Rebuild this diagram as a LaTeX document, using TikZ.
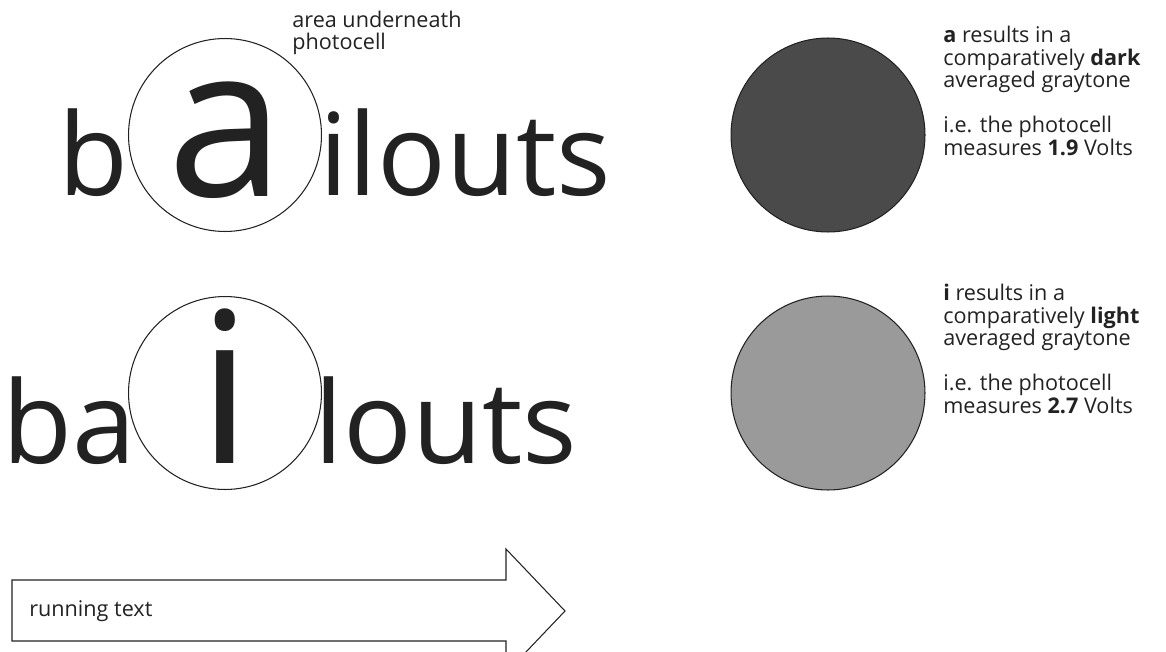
\documentclass[tikz,border=0pt]{standalone}
\usepackage{fontspec}
\setmainfont{Open Sans}
\usetikzlibrary{positioning}
\definecolor{inkgray}{HTML}{222222}
\definecolor{darktone}{HTML}{4A4A4A}
\definecolor{lighttone}{HTML}{9A9A9A}
\tikzset{
  wordpart/.style={
    inner sep=0pt, anchor=base west, text=inkgray,
    font=\fontsize{65}{65}\selectfont
  },
  bigletter/.style={
    inner sep=0pt, anchor=base, text=inkgray,
    font=\fontsize{120}{120}\selectfont
  },
  cellring/.style={
    circle, draw=inkgray, line width=0.6pt, inner sep=0pt,
    minimum size=3.86cm
  },
  tonedisc/.style={
    circle, draw=inkgray, line width=0.6pt, inner sep=0pt,
    minimum size=3.88cm, fill=#1
  },
  notetext/.style={
    inner sep=0pt, anchor=base west, align=left, text=inkgray,
    font=\fontsize{12.3}{12.8}\selectfont
  },
}

\begin{document}
\begin{tikzpicture}[x=0.02cm, y=-0.02cm]
    \useasboundingbox (0,0) rectangle (1166,652);
    \clip (0,0) rectangle (1166,652);

    \node[cellring] (ringa) at (225,135){};
    \node[wordpart] (topb)  at (58,195){b};
    \node[bigletter] (topa) at (226,196){a};
    \node[wordpart] (toprest) at (319,195){ilouts};
    \node[notetext] (area) at (292,50){area underneath\\photocell};

    \node[cellring] (ringi) at (225,393){};
    \node[wordpart] (botba) at (2,463){ba};
    \node[bigletter] (boti) at (225,463){i};
    \node[wordpart] (botrest) at (314,463){louts};

    \node[tonedisc=darktone]  (disca) at (828,135){};
    \node[tonedisc=lighttone] (disci) at (828,393){};

    \node[notetext] (notea) at (943,155)
         {\textbf{a} results in a\\comparatively \textbf{dark}\\averaged graytone\\[12.8pt]i.e. the photocell\\measures \textbf{1.9} Volts};
    \node[notetext] (notei) at (943,413)
         {\textbf{i} results in a\\comparatively \textbf{light}\\averaged graytone\\[12.8pt]i.e. the photocell\\measures \textbf{2.7} Volts};

    \draw[inkgray, line width=0.6pt]
         (12,580) -- (506,580) -- (506,549) -- (565,611) -- (506,673)
         -- (506,641) -- (12,641) -- cycle;
    \node[notetext, anchor=west] (running) at (29,611){running text};
  \end{tikzpicture}
\end{document}
